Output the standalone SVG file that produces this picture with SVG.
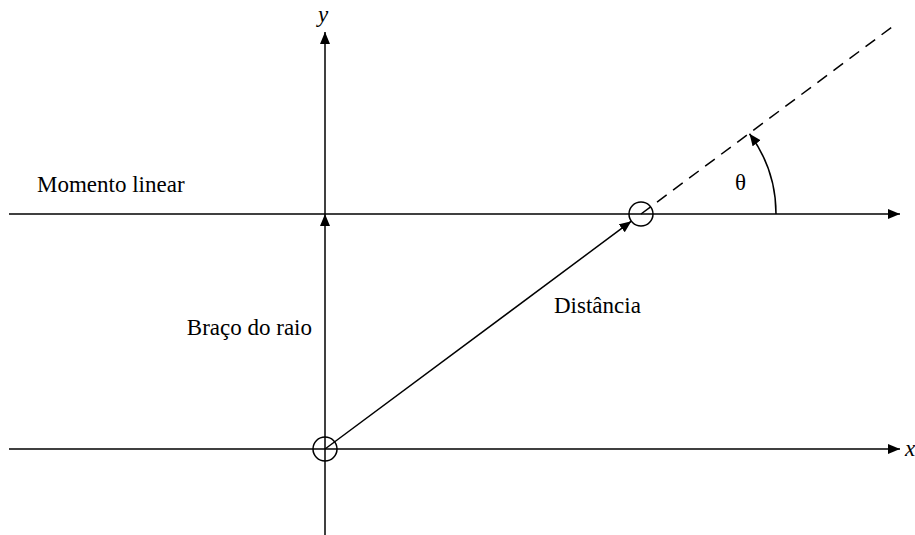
<svg xmlns="http://www.w3.org/2000/svg" width="915" height="535" viewBox="0 0 915 535">
<style>
.ln{stroke:#000;stroke-width:1.5;fill:none}
.dash{stroke:#000;stroke-width:1.5;fill:none;stroke-dasharray:12 8}
.t{font-family:"Liberation Serif","Times New Roman",serif;font-size:23px;fill:#000}
.it{font-style:italic}
.pt{fill:none;stroke:#000;stroke-width:1.5}
</style>
<defs>
<marker id="ah" markerUnits="userSpaceOnUse" markerWidth="13" markerHeight="11" refX="12" refY="5" orient="auto" viewBox="0 0 13 11">
<path d="M0,0 L12,5 L0,10 z" fill="#000"/>
</marker>
</defs>
<rect width="915" height="535" fill="#fff"/>
<g id="connectors">
<line class="ln" x1="9" y1="449" x2="900" y2="449" marker-end="url(#ah)"/>
<line class="ln" x1="9" y1="214" x2="900" y2="214" marker-end="url(#ah)"/>
<line class="ln" x1="325" y1="535" x2="325" y2="214" marker-end="url(#ah)"/>
<line class="ln" x1="325" y1="214" x2="325" y2="32" marker-end="url(#ah)"/>
<line class="ln" x1="325" y1="449" x2="631.4" y2="221.2" marker-end="url(#ah)"/>
<line class="dash" x1="641" y1="214" x2="896" y2="24"/>
<path class="ln" d="M776,214 A135,135 0 0 0 749.5,133.7" marker-end="url(#ah)"/>
</g>
<g id="origin"><circle class="pt" cx="325" cy="449" r="12"/></g>
<g id="particle"><circle class="pt" cx="641" cy="214" r="12"/></g>
<g id="label-y"><text class="t it" x="318" y="22">y</text></g>
<g id="label-x"><text class="t it" x="905" y="456">x</text></g>
<g id="label-momento"><text class="t" x="37" y="192">Momento linear</text></g>
<g id="label-braco"><text class="t" x="312" y="335" text-anchor="end">Braço do raio</text></g>
<g id="label-distancia"><text class="t" x="554" y="313">Distância</text></g>
<g id="label-theta"><text class="t" x="735" y="190">θ</text></g>
</svg>
